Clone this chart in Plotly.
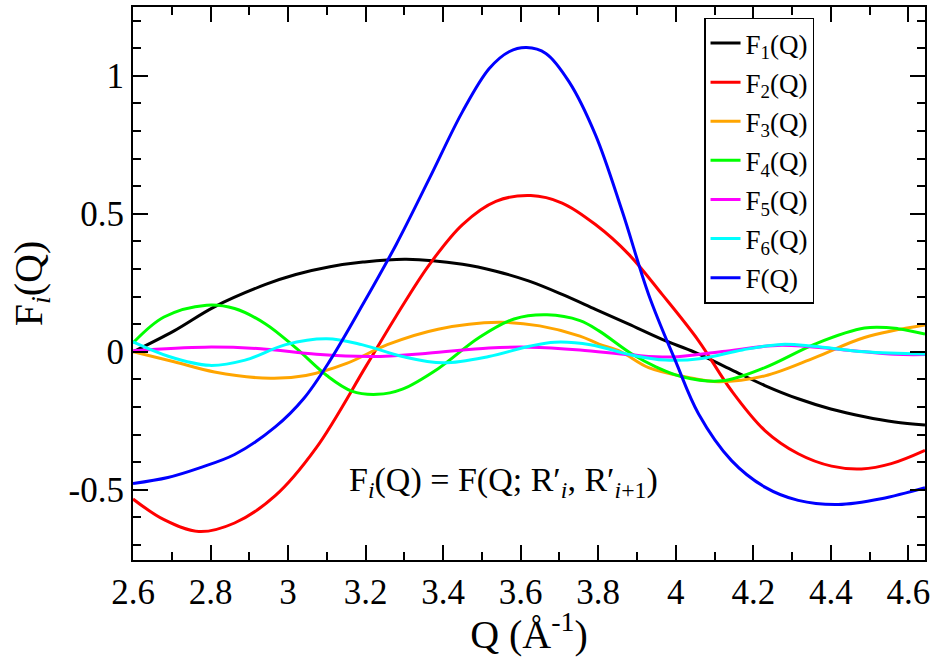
import plotly.graph_objects as go

# ---- data ----
q_F = [2.6, 2.69, 2.77, 2.862, 2.967, 3.04, 3.108, 3.193, 3.279, 3.365, 3.45, 3.519, 3.57, 3.615, 3.665, 3.725, 3.793, 3.862, 3.93, 3.999, 4.059, 4.144, 4.23, 4.316, 4.419, 4.53, 4.643]
v_F = [-0.477, -0.455, -0.421, -0.372, -0.272, -0.17, -0.032, 0.172, 0.389, 0.629, 0.870, 1.026, 1.087, 1.102, 1.081, 0.978, 0.786, 0.509, 0.208, -0.032, -0.225, -0.394, -0.49, -0.538, -0.553, -0.532, -0.492]

q_F2 = [2.6, 2.68, 2.77, 2.862, 2.967, 3.073, 3.202, 3.279, 3.365, 3.45, 3.536, 3.626, 3.707, 3.793, 3.879, 3.965, 4.059, 4.144, 4.23, 4.316, 4.402, 4.479, 4.556, 4.643]
v_F2 = [-0.533, -0.608, -0.651, -0.620, -0.521, -0.347, -0.05, 0.13, 0.317, 0.461, 0.545, 0.566, 0.539, 0.461, 0.353, 0.208, 0.040, -0.141, -0.285, -0.369, -0.414, -0.424, -0.405, -0.357]

q_F1 = [2.6, 2.706, 2.81, 2.942, 3.02, 3.108, 3.193, 3.305, 3.45, 3.536, 3.622, 3.707, 3.793, 3.879, 3.965, 4.05, 4.144, 4.23, 4.316, 4.4, 4.487, 4.565, 4.643]
v_F1 = [0.0, 0.076, 0.163, 0.244, 0.280, 0.308, 0.325, 0.335, 0.317, 0.292, 0.256, 0.208, 0.154, 0.100, 0.045, -0.002, -0.065, -0.122, -0.170, -0.207, -0.235, -0.254, -0.265]

q_F3 = [2.6, 2.706, 2.81, 2.955, 3.046, 3.151, 3.256, 3.387, 3.544, 3.649, 3.753, 3.802, 3.858, 3.93, 4.03, 4.11, 4.23, 4.359, 4.487, 4.643]
v_F3 = [0.0, -0.036, -0.073, -0.096, -0.086, -0.042, 0.026, 0.082, 0.107, 0.094, 0.057, 0.028, 0.001, -0.057, -0.092, -0.108, -0.087, -0.021, 0.052, 0.097]

q_F4 = [2.6, 2.68, 2.79, 2.862, 2.942, 3.02, 3.1, 3.164, 3.23, 3.295, 3.387, 3.492, 3.583, 3.668, 3.753, 3.802, 3.887, 3.95, 4.016, 4.119, 4.23, 4.359, 4.487, 4.573, 4.643]
v_F4 = [0.032, 0.126, 0.169, 0.157, 0.101, 0.014, -0.086, -0.142, -0.154, -0.135, -0.061, 0.051, 0.119, 0.134, 0.113, 0.076, -0.008, -0.055, -0.090, -0.105, -0.057, 0.028, 0.086, 0.084, 0.064]

q_F5 = [2.6, 2.785, 2.93, 3.073, 3.217, 3.36, 3.518, 3.622, 3.753, 3.884, 3.989, 4.12, 4.273, 4.434, 4.565, 4.643]
v_F5 = [0.004, 0.017, 0.011, -0.009, -0.017, -0.005, 0.014, 0.017, 0.007, -0.011, -0.019, 0.001, 0.024, 0.007, -0.009, -0.010]

q_F6 = [2.6, 2.693, 2.797, 2.889, 2.994, 3.1, 3.19, 3.295, 3.4, 3.518, 3.622, 3.688, 3.78, 3.884, 3.973, 4.067, 4.172, 4.273, 4.356, 4.487, 4.643]
v_F6 = [0.036, -0.017, -0.049, -0.030, 0.026, 0.047, 0.026, -0.017, -0.040, -0.017, 0.020, 0.035, 0.026, -0.011, -0.030, -0.024, 0.007, 0.027, 0.020, 0.0, -0.008]

x_tickvals = [2.6, 2.8, 3.0, 3.2, 3.4, 3.6, 3.8, 4.0, 4.2, 4.4, 4.6]
x_ticktext = ["2.6", "2.8", "3", "3.2", "3.4", "3.6", "3.8", "4", "4.2", "4.4", "4.6"]
y_tickvals = [-0.5, 0, 0.5, 1]
y_ticktext = ["-0.5", "0", "0.5", "1"]

series = [
    ("F<sub>1</sub>(Q)", q_F1, v_F1, "#000000"),
    ("F<sub>2</sub>(Q)", q_F2, v_F2, "#ff0000"),
    ("F<sub>3</sub>(Q)", q_F3, v_F3, "#ffa500"),
    ("F<sub>4</sub>(Q)", q_F4, v_F4, "#00ff00"),
    ("F<sub>5</sub>(Q)", q_F5, v_F5, "#ff00ff"),
    ("F<sub>6</sub>(Q)", q_F6, v_F6, "#00ffff"),
    ("F(Q)", q_F, v_F, "#0000ff"),
]

FONT = "Liberation Serif, DejaVu Serif"

fig = go.Figure()
for k, (name, xs, ys, col) in enumerate(series):
    fig.add_trace(go.Scatter(x=xs, y=ys, mode="lines", name=name, legendgroup=f"g{k}",
                             line=dict(color=col, width=3, shape="spline", smoothing=1.0)))

axis_common = dict(
    showgrid=False, zeroline=False, showline=True, linecolor="black", linewidth=2,
    mirror="ticks", ticks="inside", ticklen=15, tickwidth=1.5, tickcolor="black",
    tickfont=dict(family=FONT, size=35, color="black"),
)

fig.update_xaxes(range=[2.6, 4.643], tickvals=x_tickvals, ticktext=x_ticktext,
                 minor=dict(dtick=0.1, tick0=2.6, ticks="inside", ticklen=8, tickwidth=1.5, tickcolor="black"),
                 title=dict(text="Q (Å<sup>-1</sup>)", font=dict(family=FONT, size=40, color="black"), standoff=2),
                 **axis_common)
fig.update_yaxes(range=[-0.754, 1.249], tickvals=y_tickvals, ticktext=y_ticktext,
                 minor=dict(dtick=0.1, tick0=0, ticks="inside", ticklen=8, tickwidth=1.5, tickcolor="black"),
                 title=dict(text="F<sub><i>i</i></sub>(Q)", font=dict(family=FONT, size=40, color="black"), standoff=14),
                 **axis_common)

fig.add_annotation(x=0.468, y=0.10, xref="paper", yref="paper", showarrow=False,
                   text="F<sub><i>i</i></sub>(Q) = F(Q; R′<sub><i>i</i></sub>, R′<sub><i>i</i>+1</sub>)",
                   font=dict(family=FONT, size=34, color="black"))

fig.update_layout(
    width=936, height=657,
    margin=dict(l=133, r=11, t=5, b=97),
    plot_bgcolor="white", paper_bgcolor="white",
    font=dict(family=FONT, color="black"),
    legend=dict(x=0.721, y=0.981, xanchor="left", yanchor="top",
                bgcolor="white", bordercolor="black", borderwidth=1.5,
                font=dict(family=FONT, size=27, color="black"),
                tracegroupgap=1, itemwidth=30),
    showlegend=True,
)

fig.write_html("out.html")
